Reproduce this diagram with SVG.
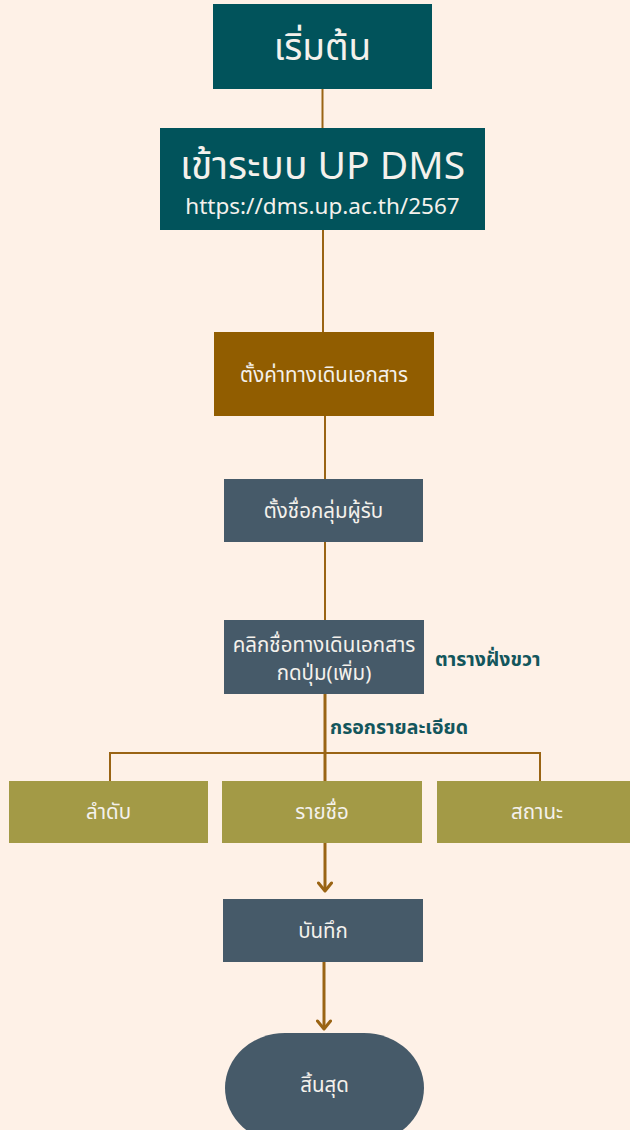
<svg xmlns="http://www.w3.org/2000/svg" width="630" height="1130" viewBox="0 0 630 1130">
<defs>
<style>
.t{font-family:"Noto Sans","Noto Sans Thai","DejaVu Sans",sans-serif;fill:#F4F1EC;text-anchor:middle}
.lbl{font-family:"Noto Sans","Noto Sans Thai","DejaVu Sans",sans-serif;fill:#13565C;font-weight:bold;font-size:19.5px}
.c{stroke:#9A6414;fill:none}
.teal{fill:#01535B}
.brown{fill:#915D00}
.slate{fill:#465A69}
.olive{fill:#A39A46}
</style>
<marker id="ah" viewBox="0 0 12 16" refX="10" refY="8" markerWidth="12" markerHeight="16" markerUnits="userSpaceOnUse" orient="auto">
<path d="M2,1.5 L10,8 L2,14.5" fill="none" stroke="#9A6414" stroke-width="3" stroke-linecap="round" stroke-linejoin="round"/>
</marker>
</defs>
<rect width="630" height="1130" fill="#FEF1E7"/>
<g id="connectors">
<line class="c" x1="322.5" y1="89" x2="322.5" y2="128" stroke-width="2"/>
<line class="c" x1="323" y1="230" x2="323" y2="332" stroke-width="2"/>
<line class="c" x1="325" y1="416" x2="325" y2="479" stroke-width="2"/>
<line class="c" x1="325" y1="542" x2="325" y2="620" stroke-width="2"/>
<line class="c" x1="325" y1="694" x2="325" y2="781" stroke-width="3"/>
<polyline class="c" points="110,781 110,753 540,753 540,781" stroke-width="2"/>
<line class="c" x1="325" y1="843" x2="325" y2="891" stroke-width="3" marker-end="url(#ah)"/>
<line class="c" x1="324" y1="962" x2="324" y2="1029" stroke-width="3" marker-end="url(#ah)"/>
<text class="lbl" x="435" y="666">ตารางฝั่งขวา</text>
<text class="lbl" x="330" y="734">กรอกรายละเอียด</text>
</g>
<g id="start">
<rect class="teal" x="213" y="4" width="219" height="85"/>
<text class="t" x="322.5" y="60" font-size="37">เริ่มต้น</text>
</g>
<g id="login">
<rect class="teal" x="160" y="128" width="325" height="102"/>
<text class="t" x="322.5" y="179" font-size="39">เข้าระบบ UP DMS</text>
<text class="t" x="322.5" y="214" font-size="22.5">https://dms.up.ac.th/2567</text>
</g>
<g id="settings">
<rect class="brown" x="214" y="332" width="220" height="84"/>
<text class="t" x="324" y="382" font-size="20.5">ตั้งค่าทางเดินเอกสาร</text>
</g>
<g id="group">
<rect class="slate" x="224" y="479" width="199" height="63"/>
<text class="t" x="323.5" y="518" font-size="20.5">ตั้งชื่อกลุ่มผู้รับ</text>
</g>
<g id="click">
<rect class="slate" x="224" y="620" width="200" height="74"/>
<text class="t" x="324" y="652" font-size="20.5">คลิกชื่อทางเดินเอกสาร</text>
<text class="t" x="324" y="680" font-size="20.5">กดปุ่ม(เพิ่ม)</text>
</g>
<g id="order">
<rect class="olive" x="9" y="781" width="199" height="62"/>
<text class="t" x="108.5" y="819" font-size="20.5">ลำดับ</text>
</g>
<g id="names">
<rect class="olive" x="222" y="781" width="200" height="62"/>
<text class="t" x="322" y="819" font-size="20.5">รายชื่อ</text>
</g>
<g id="status">
<rect class="olive" x="437" y="781" width="200" height="62"/>
<text class="t" x="537" y="819" font-size="20.5">สถานะ</text>
</g>
<g id="save">
<rect class="slate" x="223" y="899" width="200" height="63"/>
<text class="t" x="323" y="938" font-size="20.5">บันทึก</text>
</g>
<g id="end">
<rect class="slate" x="225" y="1033" width="199" height="110" rx="60" ry="55"/>
<text class="t" x="324.5" y="1092" font-size="20.5">สิ้นสุด</text>
</g>
</svg>
